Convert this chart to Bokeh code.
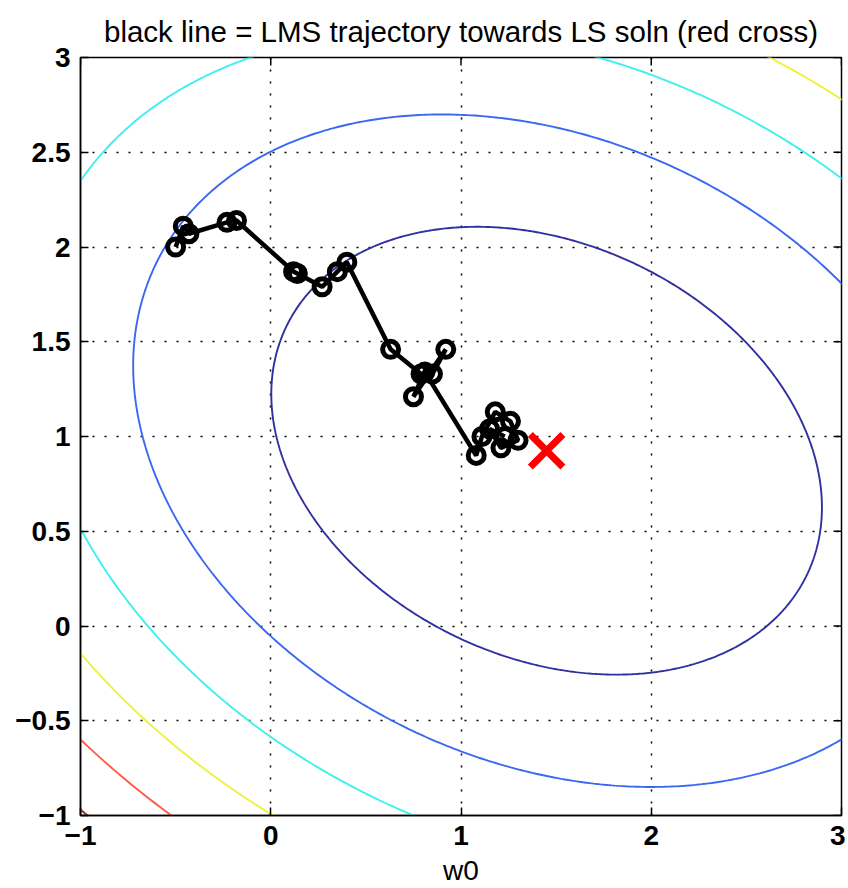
import numpy as np
from bokeh.plotting import figure
from bokeh.models import FixedTicker, Range1d, ColumnDataSource
from bokeh.embed import file_html
from bokeh.resources import INLINE

# ---- data ----
# least-squares solution (red cross)
ls_w0 = [1.45]
ls_w1 = [0.925]

# error surface around the LS solution: Q = a*u^2 + 2*b*u*v + d*v^2
quad_a, quad_b, quad_d = 1.0, 0.31, 1.5
contour_levels = [1.96, 4.42, 6.88, 9.34, 11.80, 14.26]
contour_colors = ["#30309e", "#3b68f2", "#3ef0ee", "#eef03c", "#ff5a45", "#9a3030"]

# LMS trajectory (black line with circles)
traj_w0 = [-0.50, -0.46, -0.43, -0.23, -0.18, 0.12, 0.14, 0.27, 0.35, 0.40,
           0.63, 0.79, 0.85, 0.92, 0.75, 0.81, 1.08, 1.11, 1.18, 1.26,
           1.30, 1.21, 1.15, 1.23]
traj_w1 = [2.00, 2.11, 2.07, 2.13, 2.14, 1.87, 1.86, 1.79, 1.87, 1.92,
           1.46, 1.33, 1.33, 1.46, 1.21, 1.34, 0.90, 1.00, 1.13, 1.08,
           0.98, 0.94, 1.04, 1.00]

x_ticks = [-1, 0, 1, 2, 3]
x_tick_labels = ["\u22121", "0", "1", "2", "3"]
y_ticks = [-1, -0.5, 0, 0.5, 1, 1.5, 2, 2.5, 3]
y_tick_labels = ["\u22121", "\u22120.5", "0", "0.5", "1", "1.5", "2", "2.5", "3"]

title_text = "black line = LMS trajectory towards LS soln (red cross)"
xlabel_text = "w0"

FONT = "Liberation Sans"
X_MIN, X_MAX, Y_MIN, Y_MAX = -1, 3, -1, 3

p = figure(width=845, height=888,
           x_range=Range1d(X_MIN, X_MAX), y_range=Range1d(Y_MIN, Y_MAX),
           output_backend="svg", toolbar_location=None,
           min_border_left=80, min_border_right=4,
           min_border_top=57, min_border_bottom=69,
           title=title_text)
p.background_fill_color = "white"
p.border_fill_color = "white"
p.outline_line_color = "black"
p.outline_line_width = 1.5

p.title.text_font = FONT
p.title.text_font_size = "29.5px"
p.title.text_font_style = "normal"
p.title.text_color = "black"
p.title.align = "center"
p.title.standoff = 20

# dotted grid
xt = FixedTicker(ticks=x_ticks)
yt = FixedTicker(ticks=y_ticks)
p.xgrid.ticker = xt
p.ygrid.ticker = yt
for g in (p.xgrid, p.ygrid):
    g.grid_line_color = "black"
    g.grid_line_dash = "2 10"
    g.grid_line_width = 1.5

# contours (ellipses of the quadratic error surface)
A = np.array([[quad_a, quad_b], [quad_b, quad_d]])
lam, V = np.linalg.eigh(A)
t = np.linspace(0, 2 * np.pi, 721)
circ = np.vstack([np.cos(t), np.sin(t)])
xs, ys = [], []
for L in contour_levels:
    pts = V @ (np.sqrt(L / lam)[:, None] * circ)
    xs.append(list(ls_w0[0] + pts[0]))
    ys.append(list(ls_w1[0] + pts[1]))
p.multi_line(xs=xs, ys=ys, line_color=contour_colors, line_width=1.9)

# trajectory
src = ColumnDataSource(dict(w0=traj_w0, w1=traj_w1))
p.line("w0", "w1", source=src, line_color="black", line_width=4.5)
p.scatter("w0", "w1", source=src, marker="circle", size=16,
          fill_color=None, line_color="black", line_width=5)

# LS solution
p.scatter(ls_w0, ls_w1, marker="x", size=46, line_color="red", line_width=7)

# inward ticks on the top and right edges of the box
p.ray(x=x_ticks, y=[Y_MAX] * len(x_ticks), length=8, length_units="screen",
      angle=-np.pi / 2, line_color="black", line_width=1.5)
p.ray(x=[X_MAX] * len(y_ticks), y=y_ticks, length=8, length_units="screen",
      angle=np.pi, line_color="black", line_width=1.5)

# axes
bottom = p.below[0]
left = p.left[0]
bottom.ticker = xt
left.ticker = yt
bottom.major_label_overrides = {v: s for v, s in zip(x_ticks, x_tick_labels)}
left.major_label_overrides = {v: s for v, s in zip(y_ticks, y_tick_labels)}
bottom.axis_label = xlabel_text
bottom.axis_label_text_font = FONT
bottom.axis_label_text_font_size = "28px"
bottom.axis_label_text_font_style = "normal"
bottom.axis_label_text_color = "black"
bottom.axis_label_standoff = 7

for ax in (bottom, left):
    ax.axis_line_color = "black"
    ax.axis_line_width = 1.5
    ax.major_tick_in = 8
    ax.major_tick_out = 0
    ax.minor_tick_in = 0
    ax.minor_tick_out = 0
    ax.major_tick_line_color = "black"
    ax.major_tick_line_width = 1.5
    ax.major_label_text_font = FONT
    ax.major_label_text_color = "black"
    ax.major_label_text_font_size = "28px"
    ax.major_label_text_font_style = "bold"
    ax.major_label_standoff = 10

open("out.html", "w").write(file_html(p, INLINE))
